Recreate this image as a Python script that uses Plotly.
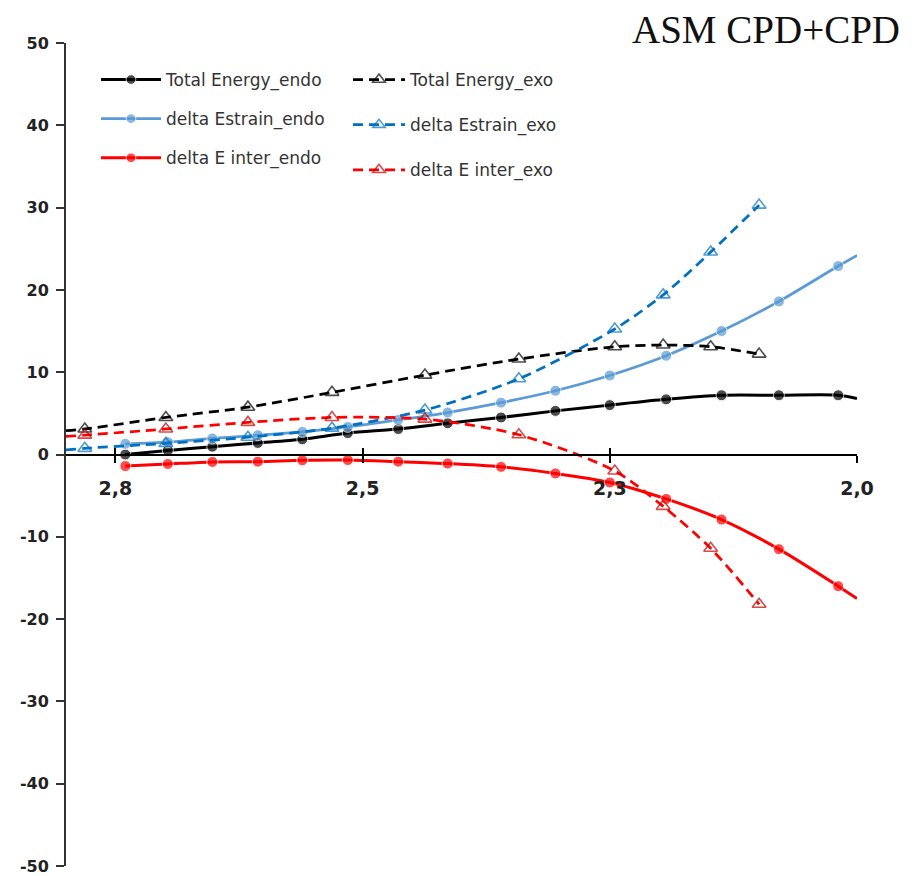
import plotly.graph_objects as go

# ---- data ----
endo_x = [2.85, 2.79, 2.747, 2.702, 2.656, 2.611, 2.565, 2.514, 2.464, 2.41, 2.355, 2.30, 2.243, 2.187, 2.129, 2.069, 2.05]
total_endo = [None, 0.0, 0.5, 0.95, 1.4, 1.85, 2.6, 3.1, 3.8, 4.5, 5.3, 6.0, 6.7, 7.2, 7.2, 7.2, 6.8]
strain_endo = [None, 1.3, 1.5, 1.95, 2.35, 2.75, 3.35, 4.2, 5.1, 6.3, 7.75, 9.6, 12.0, 15.0, 18.6, 22.9, 24.2]
inter_endo = [None, -1.4, -1.15, -0.9, -0.87, -0.7, -0.67, -0.87, -1.1, -1.5, -2.3, -3.4, -5.4, -7.9, -11.5, -16.0, -17.5]

exo_x = [2.85, 2.831, 2.749, 2.666, 2.581, 2.487, 2.392, 2.295, 2.246, 2.198, 2.149]
total_exo = [2.9, 3.1, 4.5, 5.75, 7.55, 9.65, 11.6, 13.1, 13.3, 13.1, 12.2]
strain_exo = [0.55, 0.75, 1.35, 2.1, 3.2, 5.4, 9.2, 15.25, 19.4, 24.6, 30.3]
inter_exo = [2.2, 2.35, 3.1, 3.9, 4.5, 4.3, 2.4, -2.0, -6.3, -11.4, -18.2]

x_tickvals = [2.8, 2.55, 2.3, 2.05]
x_ticktext = ["2,8", "2,5", "2,3", "2,0"]
y_tickvals = [50, 40, 30, 20, 10, 0, -10, -20, -30, -40, -50]
y_ticktext = ["50", "40", "30", "20", "10", "0", "-10", "-20", "-30", "-40", "-50"]

title_text = "ASM CPD+CPD"

fig = go.Figure()

def msizes(ys, s):
    return [0 if (i == 0 or i == len(ys) - 1) else s for i in range(len(ys))]

def msizes_exo(ys, s):
    return [0 if i == 0 else s for i in range(len(ys))]

endo_specs = [
    ("Total Energy_endo", total_endo, "#000000", 3),
    ("delta Estrain_endo", strain_endo, "#5B9BD5", 2.75),
    ("delta E inter_endo", inter_endo, "#FF0000", 3),
]
for i, (name, ys, col, w) in enumerate(endo_specs):
    fig.add_trace(go.Scatter(
        x=endo_x, y=ys, name=name, mode="lines+markers",
        line=dict(color=col, width=w, shape="spline", smoothing=0.8),
        marker=dict(symbol="circle", size=msizes(ys, 11), color=col),
        legend="legend", legendgroup="e%d" % i,
    ))

exo_specs = [
    ("Total Energy_exo", total_exo, "#000000", "#000000"),
    ("delta Estrain_exo", strain_exo, "#0070C0", "#0070C0"),
    ("delta E inter_exo", inter_exo, "#FF0000", "#C00000"),
]
for i, (name, ys, col, mcol) in enumerate(exo_specs):
    fig.add_trace(go.Scatter(
        x=exo_x, y=ys, name=name, mode="lines+markers",
        line=dict(color=col, width=2.75, dash="10px,6px", shape="spline", smoothing=0.8),
        marker=dict(symbol="triangle-up-open", size=msizes_exo(ys, 12), color=mcol,
                    line=dict(color=mcol, width=1.6)),
        legend="legend2", legendgroup="x%d" % i,
    ))

tickfont_y = dict(family="DejaVu Sans", size=16, color="#222222", weight="bold")
tickfont_x = dict(family="DejaVu Sans", size=19, color="#222222", weight="bold")
legfont = dict(family="DejaVu Sans", size=17, color="#333333")

# page body adds an 8px offset; margins compensate
ML, MT = 58, 35
PW, PH = 791, 823

fig.update_layout(
    width=918, height=876,
    margin=dict(l=ML, r=918 - ML - PW, t=MT, b=876 - MT - PH, autoexpand=False),
    plot_bgcolor="white", paper_bgcolor="white",
    showlegend=True,
    xaxis=dict(
        range=[2.85, 2.05], tickvals=x_tickvals, ticktext=x_ticktext,
        showgrid=False, zeroline=False, showline=True, linecolor="#000000", linewidth=2,
        ticks="outside", ticklen=7, tickwidth=1.5, tickcolor="#000000",
        tickfont=tickfont_x, anchor="free", position=0.5, ticklabelstandoff=10,
        automargin=False,
    ),
    xaxis2=dict(
        range=[2.85, 2.05], tickvals=x_tickvals, showticklabels=False,
        overlaying="x", matches="x", showgrid=False, zeroline=False, showline=False,
        ticks="inside", ticklen=7, tickwidth=1.5, tickcolor="#000000",
        anchor="free", position=0.5, automargin=False,
    ),
    yaxis=dict(
        range=[-50, 50], tickvals=y_tickvals, ticktext=y_ticktext,
        showgrid=False, zeroline=False,
        showline=True, linecolor="#333333", linewidth=2,
        ticks="outside", ticklen=8, tickwidth=1.5, tickcolor="#333333",
        tickfont=tickfont_y, ticklabelstandoff=4, automargin=False,
    ),
    legend=dict(
        x=(96 - 66) / PW, y=1 - (62 - 43) / PH, xanchor="left", yanchor="top",
        bgcolor="rgba(0,0,0,0)", font=legfont,
        itemwidth=60, tracegroupgap=14, traceorder="grouped",
    ),
    legend2=dict(
        x=(348 - 66) / PW, y=1 - (62 - 43) / PH, xanchor="left", yanchor="top",
        bgcolor="rgba(0,0,0,0)", font=legfont,
        itemwidth=52, tracegroupgap=20, traceorder="grouped",
    ),
    annotations=[dict(
        text=title_text, xref="paper", yref="paper", x=(902 - 66) / PW, y=1 + (43 - 30) / PH,
        xanchor="right", yanchor="middle", showarrow=False,
        font=dict(family="Liberation Serif", size=39, color="#111111"),
    )],
)

# dummy trace for xaxis2 so it is rendered
fig.add_trace(go.Scatter(x=[2.5], y=[None], xaxis="x2", showlegend=False, hoverinfo="skip"))

fig.write_html("out.html")
